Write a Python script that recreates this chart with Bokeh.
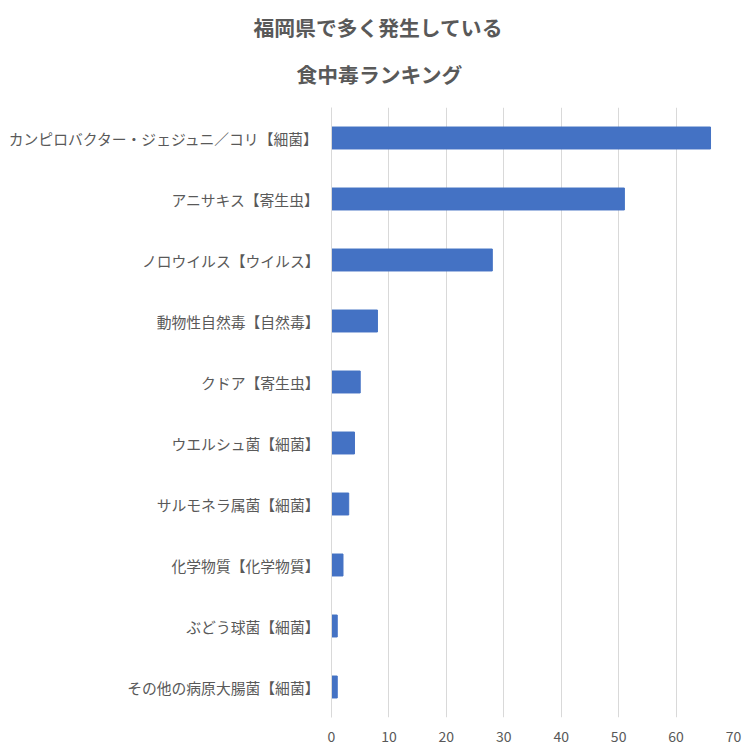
from bokeh.plotting import figure
from bokeh.models import Title, FactorRange, Range1d, ColumnDataSource
from bokeh.embed import file_html
from bokeh.resources import INLINE

categories = [
    "カンピロバクター・ジェジュニ／コリ【細菌】",
    "アニサキス【寄生虫】",
    "ノロウイルス【ウイルス】",
    "動物性自然毒【自然毒】",
    "クドア【寄生虫】",
    "ウエルシュ菌【細菌】",
    "サルモネラ属菌【細菌】",
    "化学物質【化学物質】",
    "ぶどう球菌【細菌】",
    "その他の病原大腸菌【細菌】",
]
counts = [66, 51, 28, 8, 5, 4, 3, 2, 1, 1]
x_ticks = [0, 10, 20, 30, 40, 50, 60, 70]
title_lines = ["福岡県で多く発生している", "食中毒ランキング"]

FONT = "Noto Sans CJK JP"
GREY = "#595959"

src = ColumnDataSource(dict(cat=categories, val=counts))

p = figure(
    title=None,
    width=756, height=756,
    y_range=FactorRange(factors=list(reversed(categories)), range_padding=0),
    x_range=Range1d(0, 70),
    output_backend="svg", toolbar_location=None,
    min_border_left=331, min_border_right=23, min_border_top=107, min_border_bottom=39,
)
p.hbar(y="cat", right="val", height=0.36, source=src, color="#4472C4")

# titles (last added is outermost)
t2 = Title(text=title_lines[1], align="left", text_font=FONT, text_font_size="20.8px",
           text_font_style="bold", text_color=GREY, offset=-35, standoff=37)
t1 = Title(text=title_lines[0], align="left", text_font=FONT, text_font_size="20.8px",
           text_font_style="bold", text_color=GREY, offset=-78, standoff=-7)
p.add_layout(t2, "above")
p.add_layout(t1, "above")

p.xaxis.ticker = x_ticks
p.xaxis.axis_line_color = None
p.xaxis.major_tick_line_color = None
p.xaxis.minor_tick_line_color = None
p.xaxis.major_tick_out = 0
p.xaxis.major_tick_in = 0
p.xaxis.major_label_text_font = FONT
p.xaxis.major_label_text_font_size = "14px"
p.xaxis.major_label_text_color = GREY
p.xaxis.major_label_standoff = 13

p.yaxis.axis_line_color = "#d9d9d9"
p.yaxis.major_tick_line_color = None
p.yaxis.minor_tick_line_color = None
p.yaxis.major_tick_out = 0
p.yaxis.major_tick_in = 0
p.yaxis.major_label_text_font = FONT
p.yaxis.major_label_text_font_size = "14.8px"
p.yaxis.major_label_text_color = GREY
p.yaxis.major_label_standoff = 12

p.xgrid.grid_line_color = "#d9d9d9"
p.ygrid.grid_line_color = None
p.outline_line_color = None

open("out.html", "w").write(file_html(p, INLINE))
